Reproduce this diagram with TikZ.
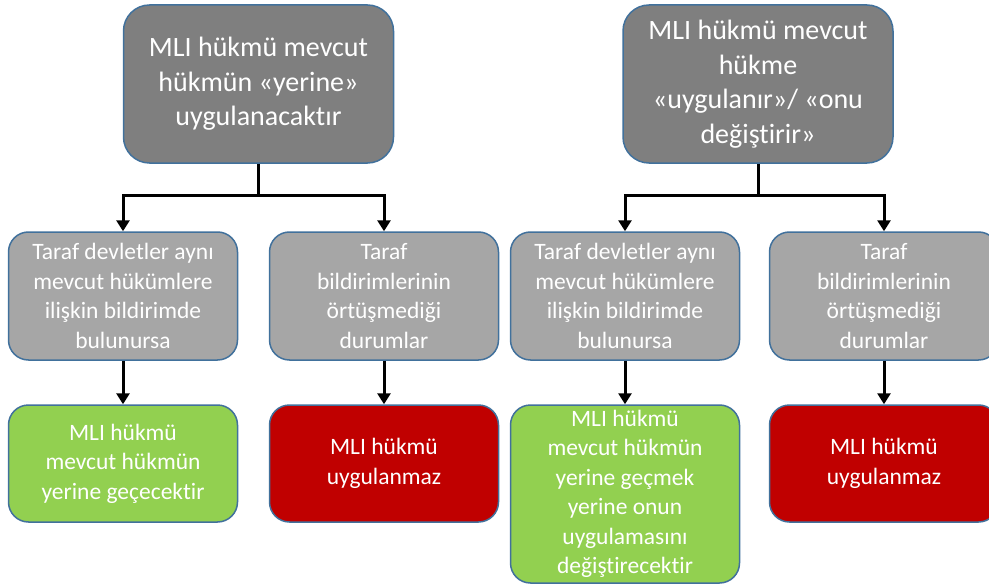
\documentclass[tikz,border=0pt]{standalone}
\usepackage{fontspec}
\setmainfont{Carlito}[Ligatures=CommonOff]
\usetikzlibrary{arrows.meta}
\definecolor{topgray}{HTML}{7F7F7F}
\definecolor{midgray}{HTML}{A6A6A6}
\definecolor{okgreen}{HTML}{92D050}
\definecolor{nored}{HTML}{C00000}
\definecolor{edgeblue}{HTML}{41719C}
\tikzset{
  x=1pt, y=-1pt,
  boxbase/.style={draw=edgeblue, line width=1.5pt, text=white, align=center, inner sep=0pt},
  topbox/.style={boxbase, fill=topgray, rounded corners=26pt, minimum width=270pt, minimum height=158pt, font=\fontsize{28}{34.5}\selectfont},
  midbox/.style={boxbase, fill=midgray, rounded corners=20pt, minimum width=229pt, minimum height=128pt, font=\fontsize{23.5}{29.5}\selectfont},
  greenbox/.style={boxbase, fill=okgreen, rounded corners=20pt, minimum width=229pt, font=\fontsize{23.5}{29.5}\selectfont},
  redbox/.style={boxbase, fill=nored, rounded corners=20pt, minimum width=229pt, minimum height=117pt, font=\fontsize{23.5}{29.5}\selectfont},
  conn/.style={line width=3pt, -{Triangle[width=13pt,length=11pt]}}
}
\begin{document}
\begin{tikzpicture}
\useasboundingbox (0,0) rectangle (989,586);
\fill[white] (0,0) rectangle (989,586);
% top boxes
\node[topbox] (t1) at (258.5,84) {MLI hükmü mevcut\\hükmün «yerine»\\uygulanacaktır};
\node[topbox] (t2) at (758,84) {MLI hükmü mevcut\\hükme\\«uygulanır»/ «onu\\değiştirir»};
% middle boxes
\node[midbox] (m1) at (123,296) {Taraf devletler aynı\\mevcut hükümlere\\ilişkin bildirimde\\bulunursa};
\node[midbox] (m2) at (384,296) {Taraf\\bildirimlerinin\\örtüşmediği\\durumlar};
\node[midbox] (m3) at (625,296) {Taraf devletler aynı\\mevcut hükümlere\\ilişkin bildirimde\\bulunursa};
\node[midbox] (m4) at (884,296) {Taraf\\bildirimlerinin\\örtüşmediği\\durumlar};
% bottom boxes
\node[greenbox, minimum height=117pt] (b1) at (123,463.5) {MLI hükmü\\mevcut hükmün\\yerine geçecektir};
\node[redbox] (b2) at (384,463.5) {MLI hükmü\\uygulanmaz};
\node[greenbox, minimum height=178pt] (b3) at (625,494) {MLI hükmü\\mevcut hükmün\\yerine geçmek\\yerine onun\\uygulamasını\\değiştirecektir};
\node[redbox] (b4) at (884,463.5) {MLI hükmü\\uygulanmaz};
% connectors
\coordinate (j1) at (258.5,195);
\coordinate (j2) at (758,195);
\draw[conn] (t1.south) -- (j1) -| (m1.north);
\draw[conn] (j1) -| (m2.north);
\draw[conn] (t2.south) -- (j2) -| (m3.north);
\draw[conn] (j2) -| (m4.north);
\draw[conn] (m1.south) -- (b1.north);
\draw[conn] (m2.south) -- (b2.north);
\draw[conn] (m3.south) -- (b3.north);
\draw[conn] (m4.south) -- (b4.north);
\end{tikzpicture}
\end{document}
